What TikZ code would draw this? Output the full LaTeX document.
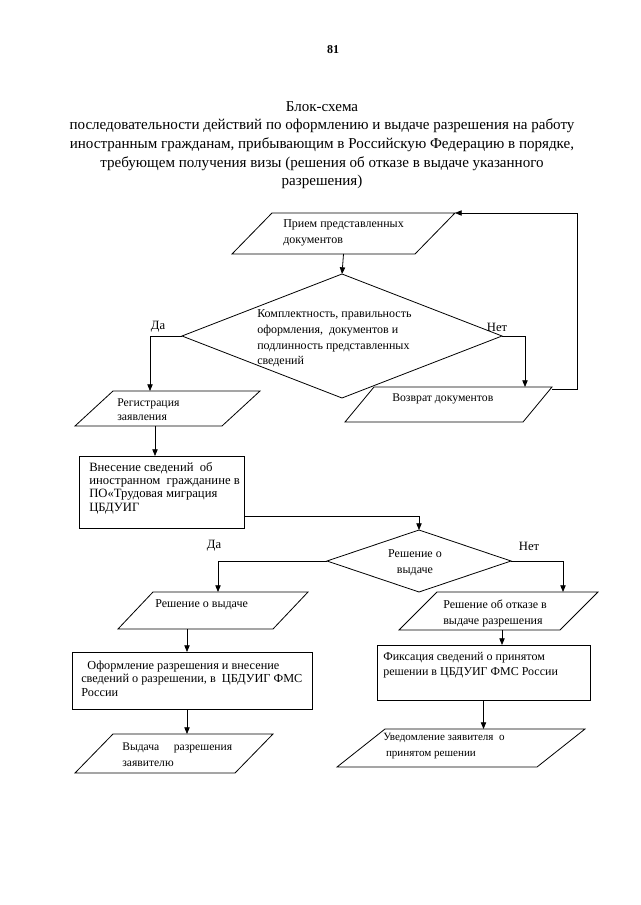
\documentclass[tikz,border=0pt]{standalone}
\usepackage{fontspec}
\setmainfont{Liberation Serif}
\usetikzlibrary{calc,shapes.geometric,arrows.meta}
\newcommand\drawpara[2]{\draw[ln] (#1.south west) -- ($(#1.south east)-(#2,0)$) -- (#1.north east) -- ($(#1.north west)+(#2,0)$) -- cycle;}
\begin{document}
\begin{tikzpicture}[x=0.75pt,y=-0.75pt,
  ln/.style={line width=0.6pt},
  arr/.style={ln,-{Triangle[length=5pt,width=4pt]}},
  sz/.style 2 args={minimum width={#1*0.75pt},minimum height={#2*0.75pt}},
  frame/.style={draw=none,inner sep=0pt,outer sep=0pt,rectangle},
  rbox/.style={draw,ln,inner sep=0pt,outer sep=0pt,rectangle},
  dia/.style={draw,ln,inner sep=0pt,outer sep=0pt,diamond},
  txt/.style={inner sep=0pt,align=left,anchor=west,font=\fontsize{9}{12}\selectfont},
  lbl/.style={inner sep=0pt,font=\fontsize{9.5}{12}\selectfont}]
\useasboundingbox (0,0) rectangle (640,905);
\fill[white] (0,0) rectangle (640,905);

% page number and title
\node[inner sep=0pt,font=\fontsize{9}{10}\selectfont\bfseries] (pg) at (333,50) {81};
\node[inner sep=0pt,align=center,anchor=north,font=\fontsize{11.3}{14}\selectfont] (title) at (322,101)
 {Блок-схема\\последовательности действий по оформлению и выдаче разрешения на работу\\иностранным гражданам, прибывающим в Российскую Федерацию в порядке,\\требующем получения визы (решения об отказе в выдаче указанного\\разрешения)};

% shapes
\node[frame,sz={223}{41}] (p1) at (343.5,233.5) {};
\drawpara{p1}{40}
\node[txt] (p1t) at (283,233) {Прием представленных\\документов};

\node[dia,sz={320}{124}] (d1) at (342,336) {};
\node[txt,font=\fontsize{9}{11.8}\selectfont] (d1t) at (257,338.5) {Комплектность, правильность\\оформления,\ \ документов и\\подлинность представленных\\сведений};

\node[frame,sz={185}{35}] (reg) at (167.5,408.5) {};
\drawpara{reg}{38}
\node[txt,font=\fontsize{8.8}{10.5}\selectfont] (regt) at (117,410) {Регистрация\\заявления};

\node[frame,sz={207}{35}] (ret) at (448.5,404.5) {};
\drawpara{ret}{29}
\node[txt,font=\fontsize{8.8}{12}\selectfont] (rett) at (392,399) {Возврат документов};

\node[rbox,sz={165}{72}] (r1) at (161.5,492) {};
\node[txt,font=\fontsize{9.5}{10}\selectfont] (r1t) at (89,488) {Внесение сведений\ \ об\\иностранном\ \ гражданине в\\ПО«Трудовая миграция\\ЦБДУИГ};

\node[dia,sz={184}{62}] (d2) at (419,561) {};
\node[inner sep=0pt,align=center,font=\fontsize{9}{12}\selectfont] (d2t) at (415,563) {Решение о\\выдаче};

\node[frame,sz={190}{37}] (p2) at (213,610.5) {};
\drawpara{p2}{35}
\node[txt] (p2t) at (155,605) {Решение о выдаче};

\node[rbox,sz={240}{57}] (r2) at (192,680.5) {};
\node[txt,font=\fontsize{9.2}{10.1}\selectfont] (r2t) at (81,678.5) {\ \ Оформление разрешения и внесение\\сведений о разрешении, в\ \ ЦБДУИГ ФМС\\России};

\node[frame,sz={198}{39}] (p3) at (174,753.5) {};
\drawpara{p3}{38}
\node[txt,font=\fontsize{8.7}{12}\selectfont] (p3t) at (122,755) {Выдача\ \ \ \ \ разрешения\\заявителю};

\node[frame,sz={199}{38}] (p4) at (498.5,611) {};
\drawpara{p4}{38}
\node[txt] (p4t) at (443,613) {Решение об отказе в\\выдаче разрешения};

\node[rbox,sz={213}{55}] (r3) at (483.5,672.5) {};
\node[txt,font=\fontsize{9}{11.3}\selectfont] (r3t) at (383,665.5) {Фиксация сведений о принятом\\решении в ЦБДУИГ ФМС России};

\node[frame,sz={248}{38}] (p5) at (461,748) {};
\drawpara{p5}{48}
\node[txt,font=\fontsize{8.3}{12}\selectfont] (p5t) at (383,746) {Уведомление заявителя\ \ о\\\ принятом решении};

% labels
\node[lbl] (da1) at (158,327) {Да};
\node[lbl] (net1) at (497,327) {Нет};
\node[lbl] (da2) at (214,546) {Да};
\node[lbl] (net2) at (529,546) {Нет};

% connectors
\draw[arr] (p1.south) -- (d1.north);
\draw[arr] (d1.west) -| ($(reg.north)+(-17.5,0)$);
\draw[arr] (d1.east) -| ($(ret.north)+(76.5,0)$);
\coordinate (loopR) at (577,389);
\draw[arr] ($(ret.north east)+(0,2)$) -- (loopR) |- (p1.north east);
\coordinate (regout) at ($(reg.south)+(-12.5,0)$);
\draw[arr] (regout) -- (regout |- r1.north);
\draw[arr] ($(r1.south east)+(0,-12)$) -| (d2.north);
\draw[arr] (d2.west) -| ($(p2.north)+(5,0)$);
\draw[arr] (d2.east) -| ($(p4.north)+(64.5,0)$);
\coordinate (a2) at ($(p2.south)+(-26,0)$);
\draw[arr] (a2) -- (a2 |- r2.north);
\coordinate (a3) at ($(r2.south)+(-5,0)$);
\draw[arr] (a3) -- (a3 |- p3.north);
\coordinate (a4) at ($(p4.south)+(3.5,0)$);
\draw[arr] (a4) -- (a4 |- r3.north);
\draw[arr] (r3.south) -- (r3.south |- p5.north);
\end{tikzpicture}
\end{document}
